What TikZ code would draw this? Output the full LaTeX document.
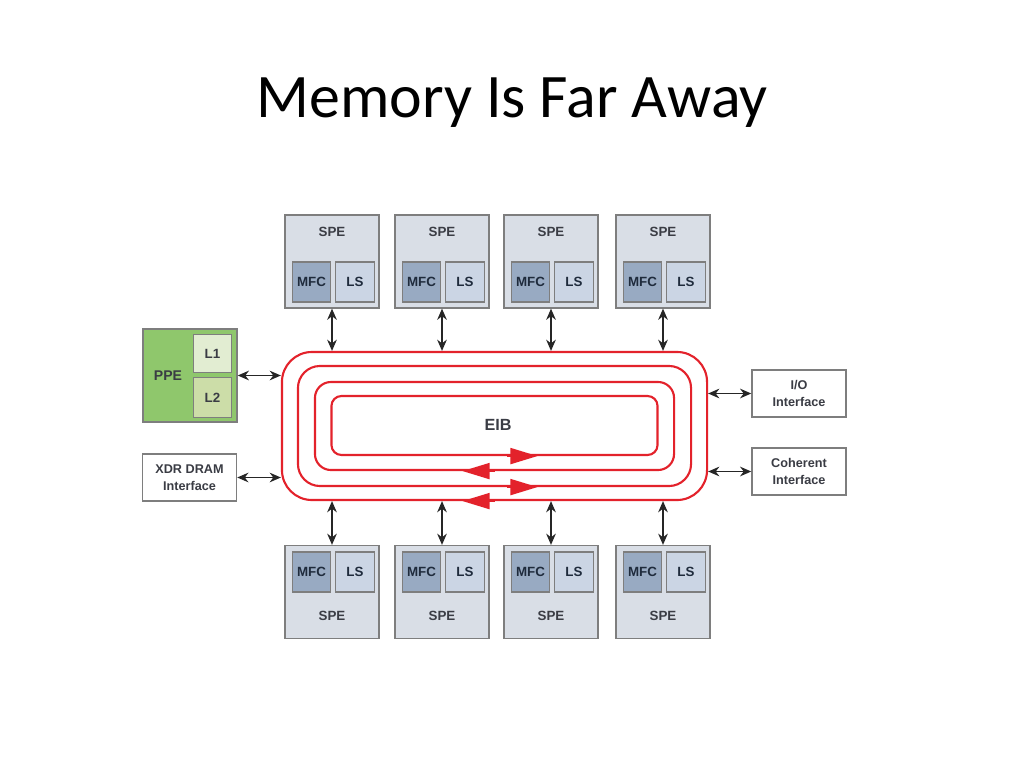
\documentclass[tikz,border=0pt]{standalone}
\usepackage{fontspec}
\setmainfont{Liberation Sans}
\newfontfamily\titlefont{Carlito}
\usetikzlibrary{arrows.meta,positioning}

\definecolor{ringred}{HTML}{E3222B}
\definecolor{spefill}{HTML}{D9DEE6}
\definecolor{boxedge}{HTML}{7E7E7E}
\definecolor{mfcfill}{HTML}{98AAC2}
\definecolor{lsfill}{HTML}{CBD5E4}
\definecolor{ppefill}{HTML}{8FC76C}
\definecolor{lonefill}{HTML}{E2EDD2}
\definecolor{ltwofill}{HTML}{CCDDA8}
\definecolor{labelgray}{HTML}{3A3C44}
\definecolor{mfctext}{HTML}{1F2B3C}

\tikzset{
  spebox/.style={draw=boxedge, line width=1pt, fill=spefill, inner sep=0pt,
    minimum width=2.35cm, minimum height=2.32cm},
  subbox/.style={draw=boxedge, line width=0.8pt, inner sep=0pt,
    minimum width=0.97cm, minimum height=1.0cm,
    font=\bfseries\fontsize{9.5}{11}\selectfont, text=mfctext},
  spelabel/.style={font=\bfseries\fontsize{9.5}{11}\selectfont, text=labelgray, inner sep=0pt},
  iobox/.style={draw=boxedge, line width=1pt, fill=white, inner sep=0pt, align=center,
    minimum width=2.35cm, minimum height=1.18cm,
    font=\bfseries\fontsize{9}{12.5}\selectfont, text=labelgray},
  ringbox/.style={draw=ringred, line width=1.5pt, inner sep=0pt},
  bus/.style={black!85, line width=1.3pt,
    {Stealth[length=2.8mm,width=2.4mm]}-{Stealth[length=2.8mm,width=2.4mm]}},
  flowhead/.style={ringred, line width=1.5pt, -{Triangle[length=0.68cm,width=0.4cm]}},
}

\begin{document}
\begin{tikzpicture}[x=0.025cm, y=-0.025cm]
  \useasboundingbox (0,0) rectangle (1024,768);

  % title
  \node[font=\titlefont\fontsize{44}{50}\selectfont] (title) at (512,103) {Memory Is Far Away};

  % ---- EIB rings ----
  \node[ringbox, rounded corners=0.75cm, minimum width=10.625cm, minimum height=3.7cm] (ring) at (494.5,426) {};
  \node[ringbox, rounded corners=0.55cm, minimum width=9.825cm, minimum height=3.0cm] (ringb) at (494.5,426) {};
  \node[ringbox, rounded corners=0.4cm, minimum width=8.975cm, minimum height=2.2cm] (ringc) at (494.5,426) {};
  \node[ringbox, rounded corners=0.25cm, minimum width=8.15cm, minimum height=1.475cm] (ringd) at (494.5,425.5) {};
  \node[font=\bfseries\fontsize{11.5}{13}\selectfont, text=labelgray] (eib) at (498,425) {EIB};

  \draw[flowhead] ([xshift=0.3cm]ringd.south) -- ([xshift=1.075cm]ringd.south);
  \draw[flowhead] ([xshift=0cm]ringc.south) -- ([xshift=-0.8cm]ringc.south);
  \draw[flowhead] ([xshift=0.3cm]ringb.south) -- ([xshift=1.075cm]ringb.south);
  \draw[flowhead] ([xshift=0cm]ring.south) -- ([xshift=-0.8cm]ring.south);

  % ---- SPEs, top and bottom ----
  \foreach \c [count=\i] in {332,442,551,663}{
    \node[spebox] (spet\i) at (\c,261.5) {};
    \node[spelabel] (spetl\i) at (\c,232) {SPE};
    \node[subbox, fill=mfcfill] (mfct\i) at (\c-20.5,282) {MFC};
    \node[subbox, fill=lsfill] (lst\i) at (\c+23,282) {LS};
    \draw[bus] (spet\i.south) -- (spet\i.south |- ring.north);

    \node[spebox] (speb\i) at (\c,592) {};
    \node[spelabel] (spebl\i) at (\c,616) {SPE};
    \node[subbox, fill=mfcfill] (mfcb\i) at (\c-20.5,572) {MFC};
    \node[subbox, fill=lsfill] (lsb\i) at (\c+23,572) {LS};
    \draw[bus] (speb\i.north) -- (speb\i.north |- ring.south);
  }

  % ---- PPE ----
  \node[draw=boxedge, line width=1pt, fill=ppefill, inner sep=0pt,
    minimum width=2.35cm, minimum height=2.32cm] (ppe) at (190,375.5) {};
  \node[spelabel, font=\bfseries\fontsize{10}{12}\selectfont] (ppel) at (168,376) {PPE};
  \node[subbox, fill=lonefill, text=labelgray, minimum height=0.97cm] (lone) at (212.5,353.5) {L1};
  \node[subbox, fill=ltwofill, text=labelgray, minimum height=1.02cm] (ltwo) at (212.5,397.5) {L2};
  \draw[bus] (ppe.east) -- (ppe.east -| ring.west);

  % ---- interfaces ----
  \node[iobox] (xdr) at (189.5,477.5) {XDR DRAM\\Interface};
  \node[iobox] (io) at (799,393.5) {I/O\\Interface};
  \node[iobox] (coh) at (799,471.5) {Coherent\\Interface};
  \draw[bus] (xdr.east) -- (xdr.east -| ring.west);
  \draw[bus] (io.west) -- (io.west -| ring.east);
  \draw[bus] (coh.west) -- (coh.west -| ring.east);
\end{tikzpicture}
\end{document}
